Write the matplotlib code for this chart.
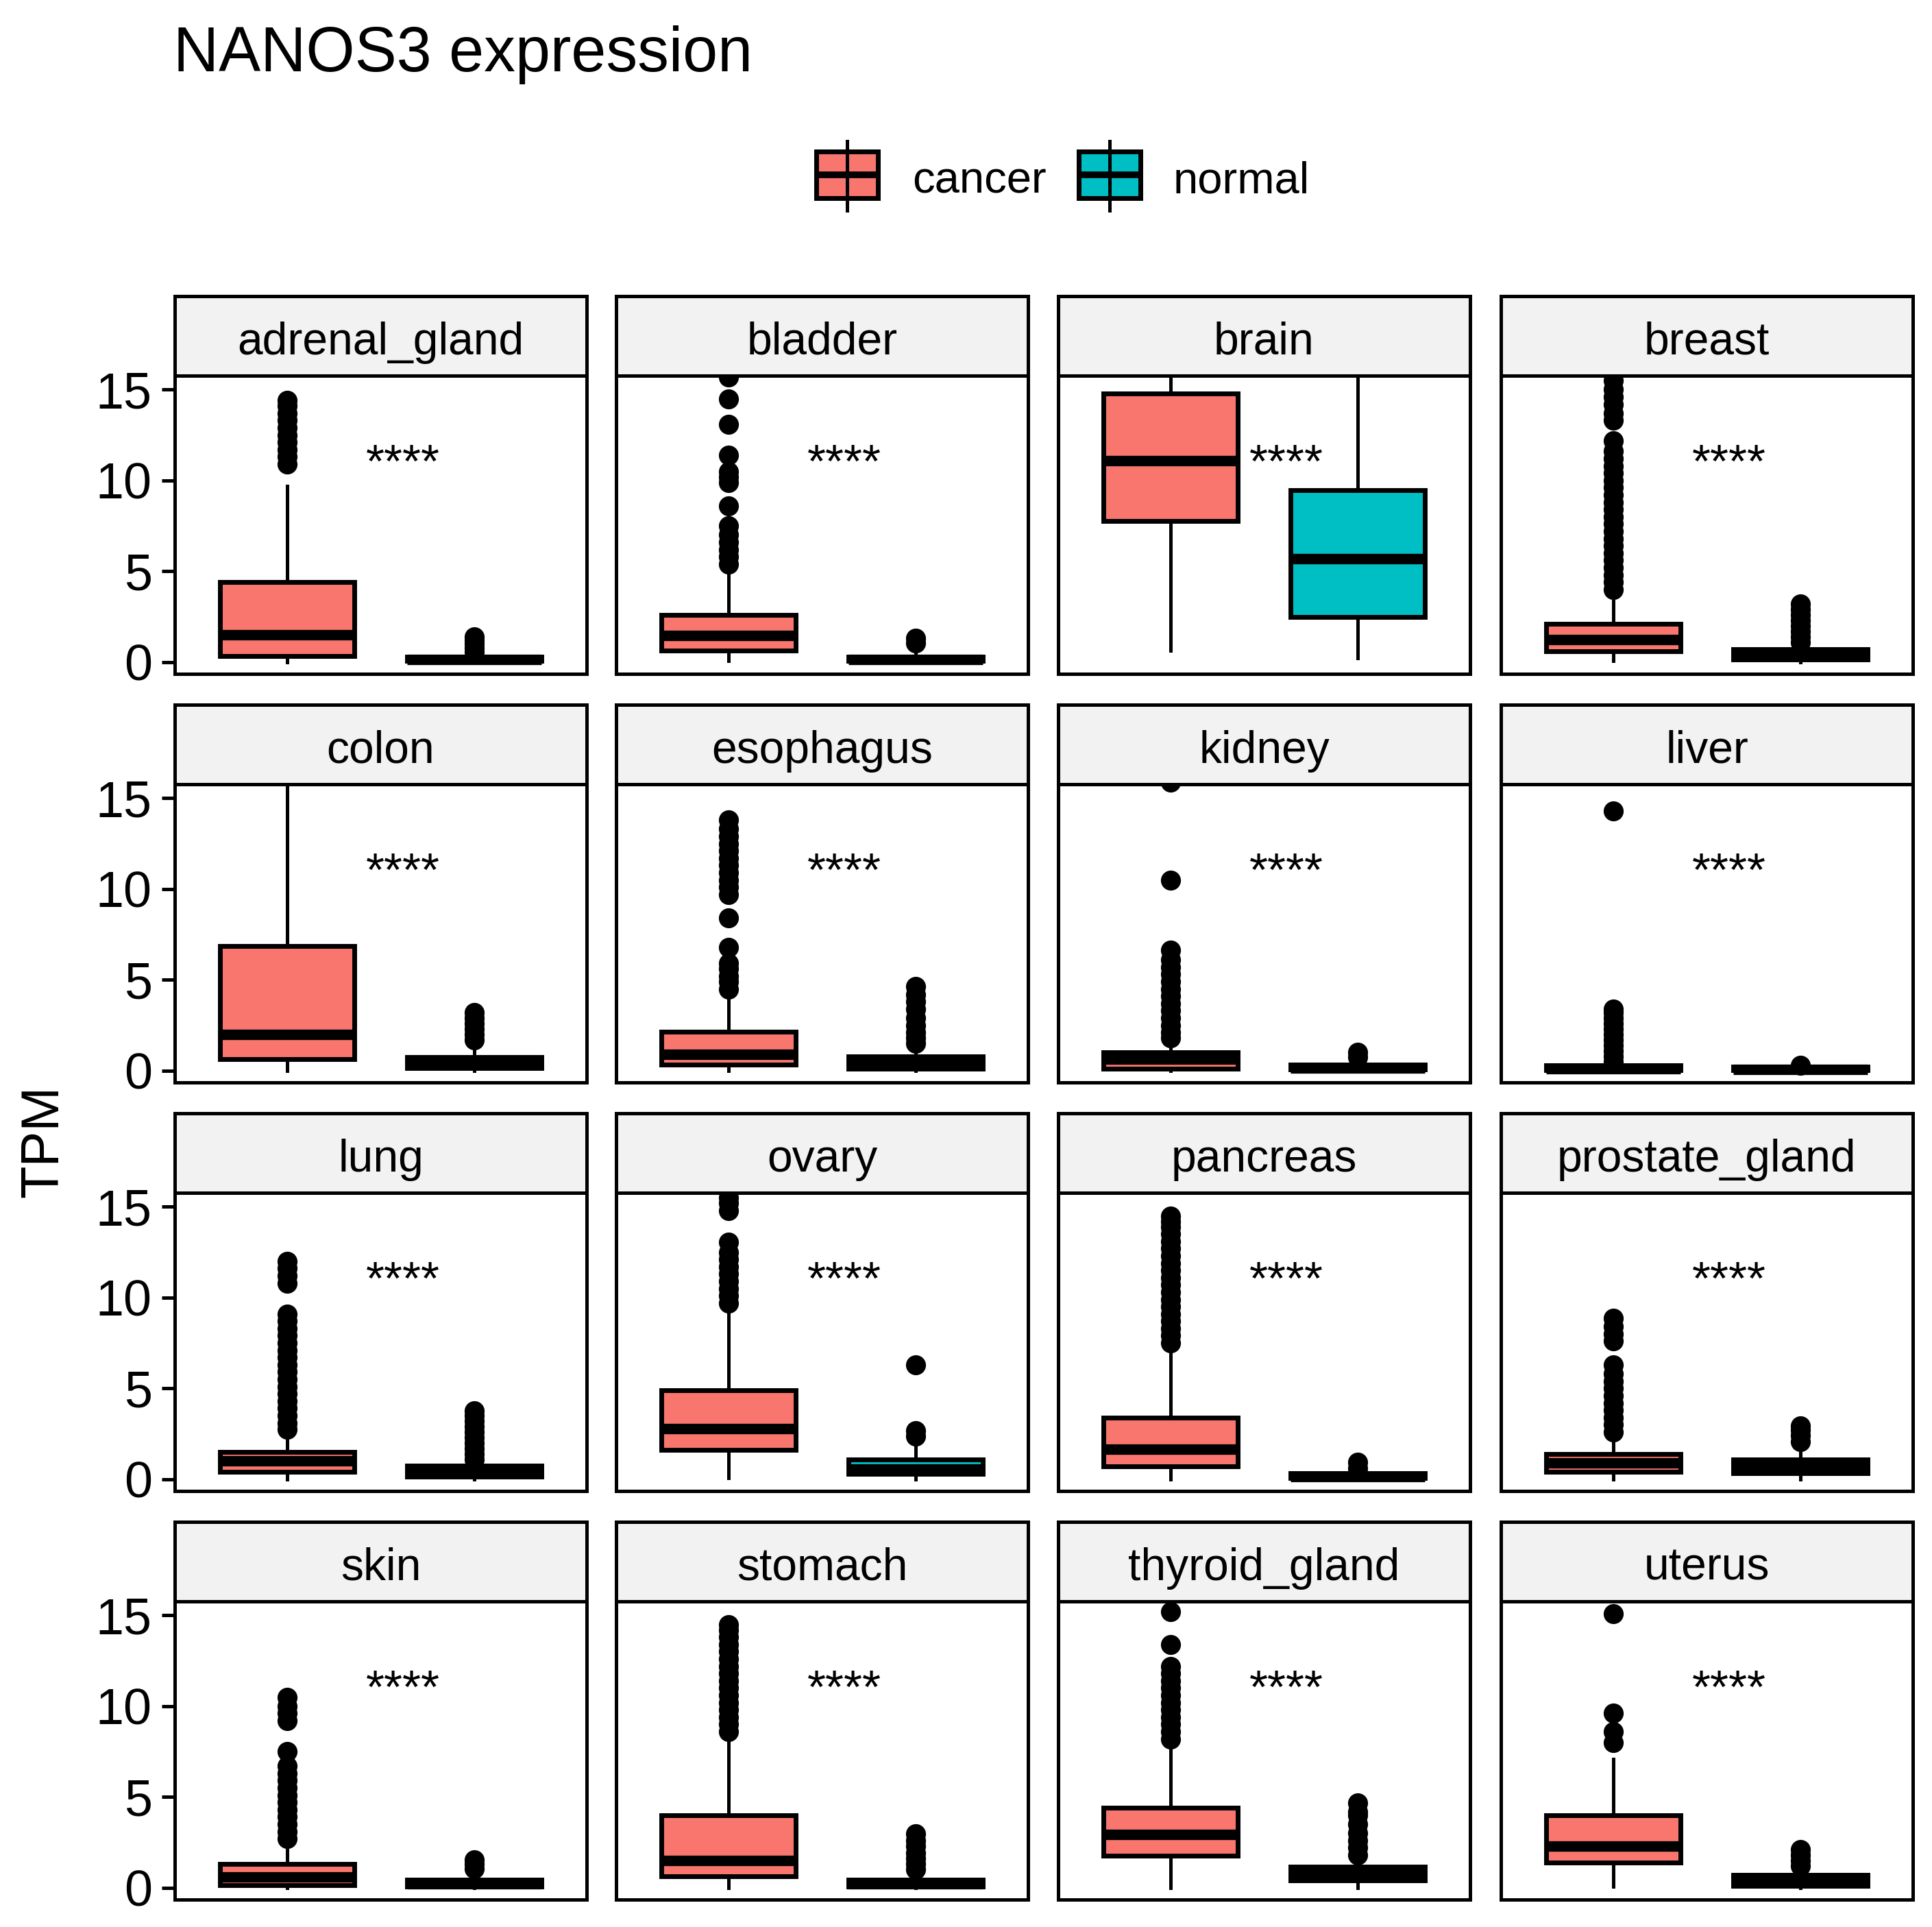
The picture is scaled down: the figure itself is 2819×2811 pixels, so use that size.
import matplotlib
matplotlib.use("Agg")
import matplotlib.pyplot as plt
from matplotlib.patches import Rectangle
from matplotlib.lines import Line2D

plt.rcParams['font.family'] = ['Liberation Sans', 'DejaVu Sans']

# ---- data ----
tissues = ["adrenal_gland", "bladder", "brain", "breast",
           "colon", "esophagus", "kidney", "liver",
           "lung", "ovary", "pancreas", "prostate_gland",
           "skin", "stomach", "thyroid_gland", "uterus"]

# cancer: whisker low, q1, median, q3, whisker high
cancer_lo = [0.0, 0.05, 0.65, 0.05, 0.0, 0.0, 0.0, 0.0, 0.0, 0.05, 0.0, 0.0, 0.0, 0.0, 0.0, 0.05]
cancer_q1 = [0.35, 0.65, 7.75, 0.6, 0.65, 0.35, 0.1, 0.02, 0.4, 1.6, 0.7, 0.4, 0.15, 0.65, 1.75, 1.4]
cancer_med = [1.5, 1.45, 11.1, 1.25, 2.0, 0.9, 0.65, 0.1, 1.0, 2.8, 1.65, 0.9, 0.6, 1.5, 2.95, 2.3]
cancer_q3 = [4.4, 2.6, 14.8, 2.1, 6.85, 2.15, 1.0, 0.3, 1.5, 4.9, 3.4, 1.4, 1.3, 4.0, 4.4, 4.0]
cancer_hi = [9.7, 4.9, 20.0, 3.8, 17.0, 3.9, 1.3, 0.45, 2.2, 9.1, 6.9, 2.0, 2.1, 8.2, 7.7, 7.1]
cancer_out = [
    [10.9, 11.3, 11.7, 12.1, 12.5, 12.9, 13.3, 13.7, 14.1, 14.4],
    [5.4, 5.8, 6.2, 6.6, 7.0, 7.5, 8.6, 9.9, 10.2, 10.5, 11.4, 13.1, 14.5, 15.7],
    [],
    [4.0, 4.4, 4.8, 5.2, 5.6, 6.0, 6.4, 6.8, 7.2, 7.6, 8.0, 8.4, 8.8, 9.2, 9.6,
     10.0, 10.4, 10.8, 11.2, 11.6, 12.2, 13.3, 13.7, 14.2, 14.6, 15.0, 15.5],
    [],
    [4.5, 4.9, 5.2, 5.6, 5.9, 6.8, 8.4, 9.7, 10.1, 10.5, 10.9, 11.3, 11.7, 12.1,
     12.5, 12.9, 13.3, 13.8],
    [1.8, 2.1, 2.5, 2.9, 3.3, 3.7, 4.1, 4.5, 4.9, 5.3, 5.7, 6.1, 6.65, 10.5, 15.9],
    [0.5, 0.8, 1.1, 1.4, 1.7, 2.0, 2.3, 2.6, 2.9, 3.2, 3.4, 14.3],
    [2.75, 3.1, 3.5, 3.9, 4.3, 4.7, 5.1, 5.5, 5.9, 6.3, 6.7, 7.1, 7.5, 7.9, 8.3,
     8.7, 9.1, 10.8, 11.2, 11.6, 12.0],
    [9.7, 10.1, 10.5, 10.9, 11.3, 11.7, 12.1, 12.5, 13.05, 14.8, 15.2, 15.5],
    [7.5, 7.9, 8.3, 8.7, 9.1, 9.5, 9.9, 10.3, 10.7, 11.1, 11.5, 11.9, 12.3, 12.7,
     13.1, 13.5, 13.9, 14.2, 14.5],
    [2.6, 3.0, 3.4, 3.8, 4.2, 4.6, 5.0, 5.4, 5.8, 6.3, 7.6, 8.0, 8.4, 8.85],
    [2.7, 3.1, 3.5, 3.9, 4.3, 4.7, 5.1, 5.5, 5.9, 6.3, 6.7, 7.5, 9.2, 9.6, 10.0, 10.5],
    [8.6, 9.0, 9.4, 9.8, 10.2, 10.6, 11.0, 11.4, 11.8, 12.2, 12.6, 13.0, 13.4,
     13.8, 14.2, 14.5],
    [8.2, 8.6, 9.0, 9.4, 9.8, 10.2, 10.6, 11.0, 11.4, 11.8, 12.2, 13.4, 15.2],
    [8.0, 8.6, 9.6, 15.1],
]

# normal
normal_lo = [0.0, 0.0, 0.2, 0.0, 0.0, 0.0, 0.0, 0.0, 0.0, 0.0, 0.0, 0.0, 0.0, 0.0, 0.0, 0.0]
normal_q1 = [0.05, 0.05, 2.5, 0.15, 0.15, 0.1, 0.05, 0.02, 0.15, 0.3, 0.05, 0.35, 0.05, 0.05, 0.42, 0.12]
normal_med = [0.15, 0.15, 5.7, 0.4, 0.5, 0.4, 0.15, 0.08, 0.45, 0.55, 0.15, 0.7, 0.2, 0.2, 0.78, 0.4]
normal_q3 = [0.3, 0.3, 9.45, 0.7, 0.75, 0.8, 0.35, 0.2, 0.75, 1.1, 0.35, 1.1, 0.45, 0.45, 1.15, 0.7]
normal_hi = [0.4, 0.4, 20.0, 0.95, 1.2, 1.2, 0.5, 0.3, 1.0, 1.9, 0.5, 1.6, 0.55, 0.6, 1.3, 0.9]
normal_out = [
    [0.55, 0.8, 1.0, 1.2, 1.4],
    [1.05, 1.3],
    [],
    [1.1, 1.4, 1.7, 2.0, 2.3, 2.6, 2.9, 3.2],
    [1.7, 2.0, 2.3, 2.6, 2.9, 3.2],
    [1.5, 1.8, 2.1, 2.5, 2.9, 3.4, 3.8, 4.2, 4.65],
    [0.75, 1.0],
    [0.3],
    [1.1, 1.4, 1.7, 2.0, 2.3, 2.6, 2.9, 3.2, 3.5, 3.75],
    [2.38, 2.66, 6.3],
    [0.6, 0.95],
    [2.07, 2.4, 2.7, 2.93],
    [1.05, 1.3, 1.55],
    [1.0, 1.3, 1.6, 1.9, 2.3, 2.6, 2.97],
    [1.8, 2.2, 2.6, 3.0, 3.5, 4.0, 4.2, 4.68],
    [1.2, 1.5, 1.8, 2.1],
]

signif = ["****"] * len(tissues)
groups = ["cancer", "normal"]
colors = ["#F8766D", "#00BFC4"]

# ---- layout (pixel grid of the reference) ----
W, H = 2819, 2811
fig = plt.figure(figsize=(W / 100, H / 100), dpi=100)

col_left = [255, 899, 1544, 2190]
panel_w = 601
strip_h = 116
panel_h = 435
row_top = [432 + 596 * r for r in range(4)]
frame_lw = 3.6


def fbox(x, y_top, w, h):
    return [x / W, 1 - (y_top + h) / H, w / W, h / H]


for i, tissue in enumerate(tissues):
    r, c = divmod(i, 4)
    x0 = col_left[c]
    ax = fig.add_axes(fbox(x0, row_top[r] + strip_h, panel_w, panel_h))
    stats = [
        dict(whislo=cancer_lo[i], q1=cancer_q1[i], med=cancer_med[i], q3=cancer_q3[i],
             whishi=cancer_hi[i], fliers=cancer_out[i]),
        dict(whislo=normal_lo[i], q1=normal_q1[i], med=normal_med[i], q3=normal_q3[i],
             whishi=normal_hi[i], fliers=normal_out[i]),
    ]
    bp = ax.bxp(stats, positions=[1, 2], widths=0.72, patch_artist=True, showcaps=False,
                boxprops=dict(edgecolor="black", linewidth=5),
                medianprops=dict(color="black", linewidth=11, solid_capstyle="butt"),
                whiskerprops=dict(color="black", linewidth=3.6),
                flierprops=dict(marker="o", markerfacecolor="black", markeredgecolor="black",
                                markersize=20))
    for patch, col in zip(bp["boxes"], colors):
        patch.set_facecolor(col)
    ax.text(1.62, 10.2, signif[i], ha="center", va="baseline", fontsize=50)

    ax.set_xlim(0.4, 2.6)
    ax.set_ylim(-0.65, 15.77)
    ax.set_xticks([])
    ax.set_yticks([0, 5, 10, 15])
    for sp in ax.spines.values():
        sp.set_linewidth(frame_lw)
        sp.set_color("black")
    if c == 0:
        ax.tick_params(axis="y", labelsize=53, length=14, width=frame_lw, pad=10)
    else:
        ax.tick_params(axis="y", left=False, labelleft=False)

    # facet strip
    sax = fig.add_axes(fbox(x0, row_top[r], panel_w, strip_h))
    sax.set_facecolor("#F2F2F2")
    sax.set_xticks([])
    sax.set_yticks([])
    for sp in sax.spines.values():
        sp.set_linewidth(frame_lw)
        sp.set_color("black")
    sax.text(0.5, 0.27, tissue, ha="center", va="baseline", fontsize=47.5,
             transform=sax.transAxes)

# title
fig.text(253 / W, 1 - 104 / H, "NANOS3 expression", ha="left", va="baseline", fontsize=66)

# y label
fig.text(64 / W, 1 - 1665 / H, "TPM", rotation=90, ha="center", va="center", fontsize=56)

# legend keys drawn like boxplot glyphs
key_x = [1191, 1574]
text_x = [1331, 1712]
for kx, tx, col, lab in zip(key_x, text_x, colors, groups):
    cx = kx + 45
    fig.add_artist(Line2D([cx / W, cx / W], [1 - 206 / H, 1 - 307 / H],
                          color="black", linewidth=3.6))
    fig.add_artist(Rectangle((kx / W, 1 - 289 / H), 90 / W, 68 / H,
                             facecolor=col, edgecolor="black", linewidth=5))
    fig.add_artist(Line2D([kx / W, (kx + 90) / W], [1 - 255 / H, 1 - 255 / H],
                          color="black", linewidth=7, solid_capstyle="butt"))
    fig.text(tx / W, 1 - 282 / H, lab, ha="left", va="baseline", fontsize=47)

fig.savefig("out.png", dpi=100, facecolor="white")
